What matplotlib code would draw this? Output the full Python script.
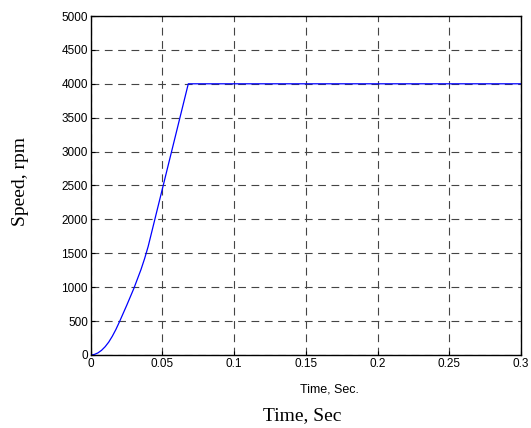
import matplotlib.pyplot as plt

# speed response
time_s = [0, 0.0025, 0.005, 0.0075, 0.01, 0.0125, 0.015, 0.0175, 0.02,
          0.025, 0.03, 0.035, 0.0375, 0.04, 0.0425, 0.045, 0.0475, 0.05,
          0.055, 0.06, 0.065, 0.068, 0.1, 0.2, 0.3]
speed_rpm = [0, 8, 31, 69, 122, 190, 276, 376, 490,
             730, 980, 1260, 1420, 1600, 1814, 2029, 2243, 2457,
             2886, 3314, 3743, 4000, 4000, 4000, 4000]

x_ticks = [0, 0.05, 0.1, 0.15, 0.2, 0.25, 0.3]
x_tick_labels = ['0', '0.05', '0.1', '0.15', '0.2', '0.25', '0.3']
y_ticks = [0, 500, 1000, 1500, 2000, 2500, 3000, 3500, 4000, 4500, 5000]

fig = plt.figure(figsize=(5.31, 4.28), dpi=100)
ax = fig.add_axes([0.171, 0.1706, 0.81, 0.792])

ax.plot(time_s, speed_rpm, color='blue', linewidth=0.9)
ax.set_xlim(0, 0.3)
ax.set_ylim(0, 5000)
ax.set_xticks(x_ticks)
ax.set_xticklabels(x_tick_labels)
ax.set_yticks(y_ticks)
ax.tick_params(direction='in', labelsize=8.5, length=3, pad=2)
for lbl in ax.get_xticklabels() + ax.get_yticklabels():
    lbl.set_fontfamily('Liberation Sans')
ax.grid(True, color='#444444', linestyle=(0, (7, 5)), linewidth=0.8)
for s in ax.spines.values():
    s.set_linewidth(1.0)

fig.text(0.6205, 0.091, 'Time, Sec.', ha='center', va='center',
         fontsize=9, family='Liberation Sans')
fig.text(0.038, 0.575, 'Speed, rpm', rotation=90, ha='center', va='center',
         fontsize=14, family='Liberation Serif')
fig.text(0.57, 0.03, 'Time, Sec', ha='center', va='center',
         fontsize=14, family='Liberation Serif')

fig.savefig('out.png', dpi=100)
plt.close(fig)
